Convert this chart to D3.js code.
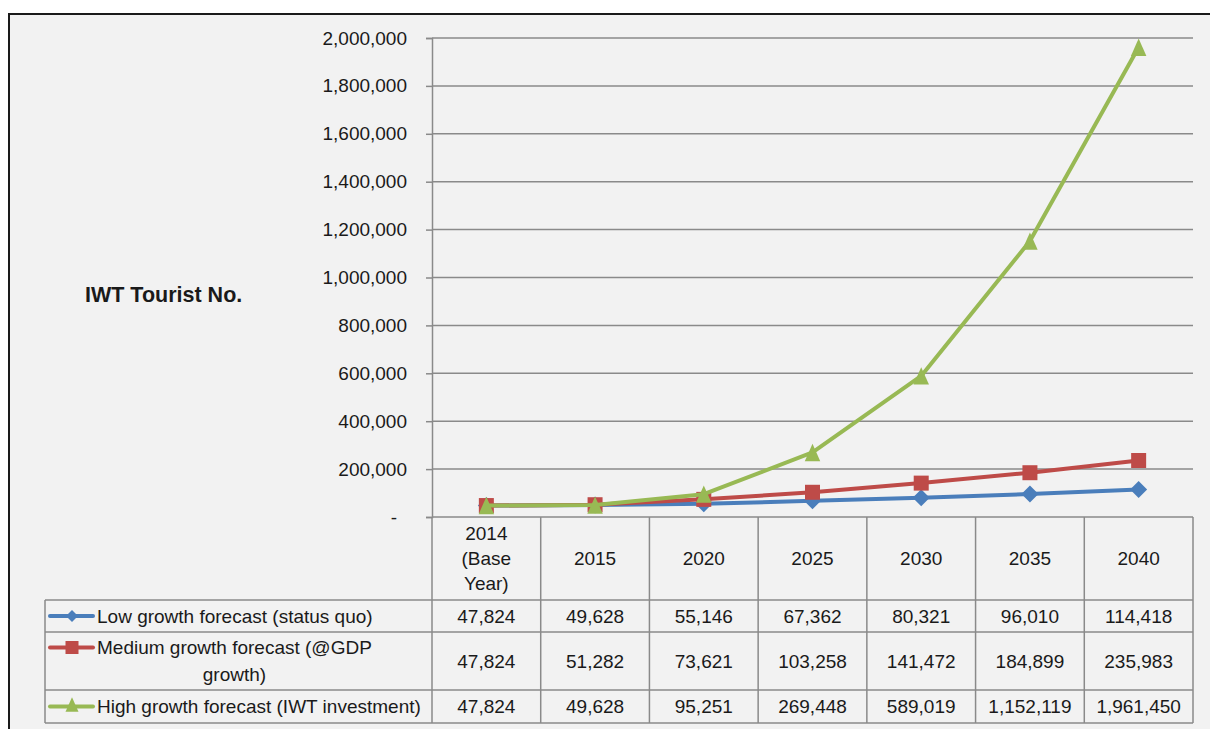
<!DOCTYPE html>
<html><head><meta charset="utf-8">
<script src="https://cdn.jsdelivr.net/npm/d3@7"></script>
<style>
html,body{margin:0;padding:0;background:#fff;}
text{font-family:"Liberation Sans",Arial,sans-serif;fill:#1a1a1a;}
</style></head>
<body>
<svg id="chart" width="1210" height="729"></svg>
<script>
const categories = ["2014 (Base Year)", "2015", "2020", "2025", "2030", "2035", "2040"];
const categoryLines = [["2014","(Base","Year)"],["2015"],["2020"],["2025"],["2030"],["2035"],["2040"]];
const seriesNames = ["Low growth forecast (status quo)", "Medium growth forecast (@GDP growth)", "High growth forecast (IWT investment)"];
const legendLines = [["Low growth forecast (status quo)"],["Medium growth forecast (@GDP","growth)"],["High growth forecast (IWT investment)"]];
const lowValues = [47824, 49628, 55146, 67362, 80321, 96010, 114418];
const mediumValues = [47824, 51282, 73621, 103258, 141472, 184899, 235983];
const highValues = [47824, 49628, 95251, 269448, 589019, 1152119, 1961450];
const yTicks = [0, 200000, 400000, 600000, 800000, 1000000, 1200000, 1400000, 1600000, 1800000, 2000000];
const seriesColors = ["#4a7ebb", "#be4b48", "#98b954"];
const yTitle = "IWT Tourist No.";

(function(){
const series = [lowValues, mediumValues, highValues];
const svg = d3.select("#chart");
const fs = 19;

// Excel-like marker shapes (size = nominal width in px)
const diamond = { draw(ctx, s){ const r = s/2; ctx.moveTo(0,-r); ctx.lineTo(r,0); ctx.lineTo(0,r); ctx.lineTo(-r,0); ctx.closePath(); } };
const square = { draw(ctx, s){ const r = s/2; ctx.rect(-r,-r,s,s); } };
const triangle = { draw(ctx, s){ const w = s/2, h = s*0.56; ctx.moveTo(0,-h); ctx.lineTo(w,h); ctx.lineTo(-w,h); ctx.closePath(); } };
const seriesSymbols = [diamond, square, triangle];
const plotSizes = [17, 15, 15.5];
const legendSizes = [12, 13, 13];

// frame
svg.append("rect").attr("x",9).attr("y",14).attr("width",1240).attr("height",760)
  .attr("fill","#f2f2f2").attr("stroke","#1a1a1a").attr("stroke-width",2);

const pLeft = 432, pRight = 1193, pTop = 38, zeroY = 517;
const x = d3.scaleBand().domain(categories).range([pLeft, pRight]).padding(0);
const y = d3.scaleLinear().domain([0, 2000000]).range([zeroY, pTop]);
const cx = c => x(c) + x.bandwidth()/2;

// gridlines
svg.append("g").selectAll("line").data(yTicks.filter(t=>t>0)).join("line")
  .attr("x1", pLeft).attr("x2", pRight).attr("y1", d=>y(d)).attr("y2", d=>y(d))
  .attr("stroke","#8a8a8a").attr("stroke-width",1.5);

// y axis
const yAxis = d3.axisLeft(y).tickValues(yTicks).tickSize(6).tickPadding(19)
  .tickFormat(d => d === 0 ? "-" : d3.format(",")(d));
const ga = svg.append("g").attr("transform",`translate(${pLeft},0)`).call(yAxis);
ga.select(".domain").attr("stroke","#8a8a8a").attr("stroke-width",1.5);
ga.selectAll(".tick line").attr("stroke","#8a8a8a").attr("stroke-width",1.5);
ga.selectAll(".tick text").attr("font-size",fs).attr("fill","#1a1a1a")
  .attr("font-family","Liberation Sans, Arial, sans-serif")
  .attr("dx", d => d===0 ? -10 : 0);

// title
svg.append("text").attr("x",85).attr("y",294).attr("dy","0.35em")
  .attr("font-size",21.5).attr("font-weight","bold").text(yTitle);

// table
const rowEdges = [zeroY, 600, 632, 690, 723];
const tableLeft = 45;
const tg = svg.append("g").attr("stroke","#8a8a8a").attr("stroke-width",1.5);
rowEdges.forEach((ry,i)=>{
  tg.append("line").attr("x1", i===0 ? pLeft : tableLeft).attr("x2", pRight).attr("y1",ry).attr("y2",ry);
});
const colEdges = categories.map(c=>x(c)).concat([pRight]);
colEdges.forEach(ex=>{
  tg.append("line").attr("x1",ex).attr("x2",ex).attr("y1",zeroY).attr("y2",rowEdges[4]);
});
tg.append("line").attr("x1",tableLeft).attr("x2",tableLeft).attr("y1",rowEdges[1]).attr("y2",rowEdges[4]);

// header labels
categories.forEach((c,i)=>{
  const lines = categoryLines[i];
  const mid = (rowEdges[0]+rowEdges[1])/2;
  const lh = 25;
  lines.forEach((ln,j)=>{
    svg.append("text").attr("x",cx(c)).attr("y", mid + (j-(lines.length-1)/2)*lh)
      .attr("dy","0.35em").attr("text-anchor","middle").attr("font-size",fs).text(ln);
  });
});

// value cells + legend
const fmt = d3.format(",");
series.forEach((vals,si)=>{
  const mid = (rowEdges[si+1]+rowEdges[si+2])/2;
  vals.forEach((v,i)=>{
    svg.append("text").attr("x",cx(categories[i])).attr("y",mid).attr("dy","0.35em")
      .attr("text-anchor","middle").attr("font-size",fs).text(fmt(v));
  });
  const lines = legendLines[si];
  const lh = 27;
  const y0 = mid - (lines.length-1)/2*lh;
  svg.append("line").attr("x1",50).attr("x2",93).attr("y1",y0).attr("y2",y0)
    .attr("stroke",seriesColors[si]).attr("stroke-width",4).attr("stroke-linecap","round");
  svg.append("path").attr("d", d3.symbol().type(seriesSymbols[si]).size(legendSizes[si])())
    .attr("transform",`translate(72,${y0 + (si===2?-2:0)})`).attr("fill",seriesColors[si]);
  const t1 = svg.append("text").attr("x",97).attr("y",y0).attr("dy","0.35em").attr("font-size",fs).text(lines[0]);
  if (lines.length>1){
    const w = t1.node().getComputedTextLength();
    svg.append("text").attr("x",97+w/2).attr("y",y0+lh).attr("dy","0.35em")
      .attr("text-anchor","middle").attr("font-size",fs).text(lines[1]);
  }
});

// lines
const line = d3.line().x((d,i)=>cx(categories[i])).y(d=>y(d));
series.forEach((vals,si)=>{
  const g = svg.append("g");
  g.append("path").datum(vals).attr("d",line).attr("fill","none")
    .attr("stroke",seriesColors[si]).attr("stroke-width",4).attr("stroke-linejoin","round");
  g.selectAll("path.m").data(vals).join("path").attr("class","m")
    .attr("d", d3.symbol().type(seriesSymbols[si]).size(plotSizes[si])())
    .attr("transform",(d,i)=>`translate(${cx(categories[i])},${y(d)})`)
    .attr("fill",seriesColors[si]);
});
})();
</script>
</body></html>
